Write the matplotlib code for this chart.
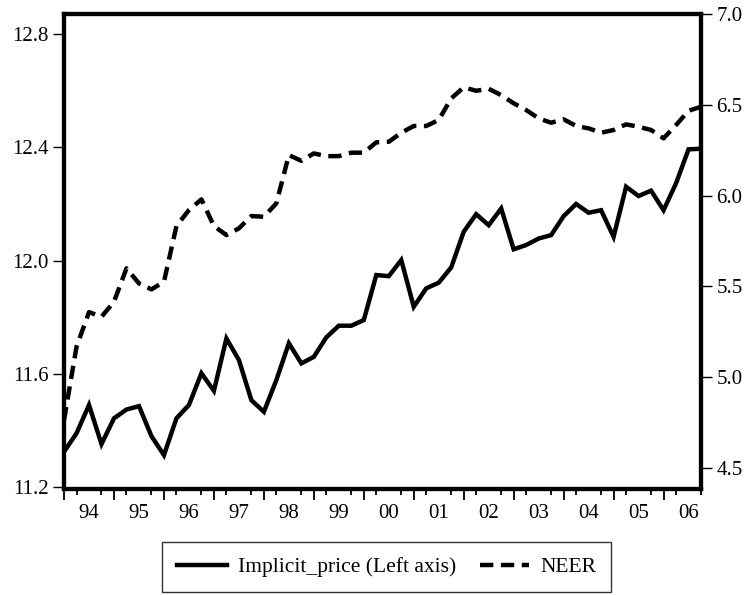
"""Implicit price vs NEER, quarterly 1994-2006"""

import numpy as np
import matplotlib
matplotlib.use("Agg")
import matplotlib.pyplot as plt
from matplotlib.ticker import FixedLocator

plt.rcParams['font.family'] = ['Liberation Serif', 'DejaVu Serif']

# Quarterly observations 1994Q1 - 2006Q4
years = list(range(1994, 2007))
year_labels = [f"{y % 100:02d}" for y in years]

implicit_price = [
    11.325, 11.39, 11.49, 11.352, 11.443, 11.474, 11.486, 11.38,
    11.313, 11.443, 11.49, 11.602, 11.54, 11.725, 11.649, 11.507,
    11.466, 11.578, 11.708, 11.637, 11.66, 11.729, 11.77, 11.77,
    11.79, 11.949, 11.945, 12.002, 11.837, 11.902, 11.922, 11.976,
    12.102, 12.164, 12.125, 12.184, 12.04, 12.055, 12.078, 12.09,
    12.157, 12.2, 12.169, 12.178, 12.084, 12.261, 12.228, 12.247,
    12.178, 12.273, 12.393, 12.395,
]

neer = [
    4.763, 5.167, 5.358, 5.332, 5.415, 5.599, 5.516, 5.483,
    5.525, 5.832, 5.92, 5.979, 5.832, 5.782, 5.819, 5.887,
    5.883, 5.957, 6.223, 6.191, 6.232, 6.217, 6.217, 6.236,
    6.236, 6.293, 6.296, 6.346, 6.383, 6.383, 6.416, 6.535,
    6.596, 6.577, 6.588, 6.553, 6.508, 6.471, 6.425, 6.401,
    6.42, 6.383, 6.37, 6.346, 6.361, 6.392, 6.379, 6.361,
    6.315, 6.388, 6.467, 6.489,
]

left_ticks = [11.2, 11.6, 12.0, 12.4, 12.8]
right_ticks = [4.5, 5.0, 5.5, 6.0, 6.5, 7.0]

FS = 15

x = np.array([y + q / 4 for y in years for q in range(4)])

fig = plt.figure(figsize=(7.48, 5.95), dpi=100)
ax = fig.add_axes([0.0856, 0.178, 0.8516, 0.7985])
ax2 = ax.twinx()

ax.plot(x, implicit_price, color='black', lw=3.2, solid_joinstyle='miter',
        label='Implicit_price (Left axis)')
ax2.plot(x, neer, color='black', lw=3.2, dashes=(3.0, 1.7),
         label='NEER')

ax.set_xlim(x[0], x[-1])
ax.set_ylim(11.193, 12.871)
ax2.set_ylim(4.383, 7.0)

ax.set_yticks(left_ticks)
ax.set_yticklabels([f"{v:.1f}" for v in left_ticks])
ax2.set_yticks(right_ticks)
ax2.set_yticklabels([f"{v:.1f}" for v in right_ticks])

# year labels sit on the third quarter, ticks on every quarter
ax.set_xticks([y + 0.5 for y in years])
ax.set_xticklabels(year_labels)
ax.xaxis.set_minor_locator(FixedLocator([v for v in x if v % 1 != 0]))
ax.tick_params(axis='x', which='major', length=0, pad=11, labelsize=FS)
ax.tick_params(axis='x', which='minor', direction='out', length=4, width=1.3)

secx = ax.secondary_xaxis('bottom')
secx.set_xticks(years)
secx.set_xticklabels([])
secx.tick_params(direction='out', length=8, width=1.3)
secx.spines['bottom'].set_visible(False)

ax.tick_params(axis='y', direction='out', length=8, width=1, pad=3,
               labelsize=FS)
ax2.tick_params(axis='y', direction='out', length=8, width=1, pad=3,
                labelsize=FS)

for a in (ax, ax2):
    for s in a.spines.values():
        s.set_linewidth(3)

h1, l1 = ax.get_legend_handles_labels()
h2, l2 = ax2.get_legend_handles_labels()
leg = fig.legend(h1 + h2, l1 + l2, loc='center', bbox_to_anchor=(0.517, 0.047),
                 ncol=2, fontsize=15.5, frameon=True, fancybox=False,
                 edgecolor='black', handlelength=2.3, columnspacing=1.1,
                 handletextpad=0.5, borderpad=0.7)
leg.get_frame().set_linewidth(1)

fig.savefig('out.png', dpi=100)
